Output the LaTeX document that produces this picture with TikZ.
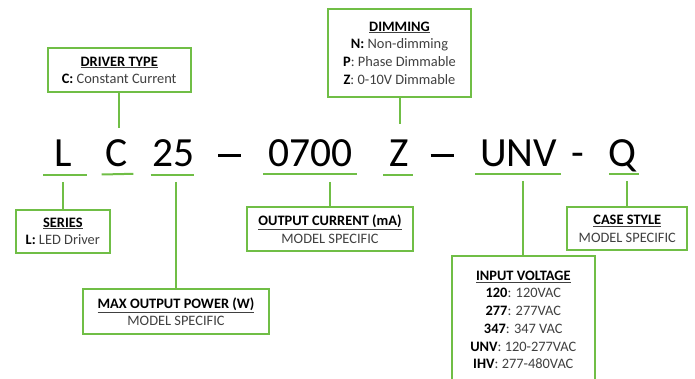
\documentclass[tikz,border=0pt]{standalone}
\usepackage{fontspec}
\setmainfont{Carlito}
\definecolor{lgreen}{RGB}{112,190,70}
\definecolor{txt}{RGB}{64,64,64}
\tikzset{
  infobox/.style={draw=lgreen, line width=2pt, fill=white, align=center, inner sep=0pt,
    font=\fontsize{14.4}{17.7}\selectfont, text=txt},
  code/.style={font=\fontsize{41.5}{45}\selectfont, anchor=base, inner sep=0pt, text=black},
  uline/.style={draw=lgreen, line width=2pt},
  link/.style={draw=lgreen, line width=2pt},
}
\newcommand{\hd}[1]{\underline{\textbf{\color{black}#1}}}
\newcommand{\kw}[1]{\textbf{\color{black}#1}}
\begin{document}
\begin{tikzpicture}[x=1pt,y=-1pt]
\useasboundingbox (0,0) rectangle (695,379);
% code letters
\node[code] (cL) at (63.3,166.7) {L};
\node[code] (cC) at (116.8,166.7) {C};
\node[code] (c25) at (173.3,166.7) {25};
\node[code] (d1) at (229.5,166.7) {\rule[10pt]{23pt}{2.6pt}};
\node[code] (c0700) at (310.5,166.7) {0700};
\node[code] (cZ) at (399,166.7) {Z};
\node[code] (d2) at (442,166.7) {\rule[10pt]{23pt}{2.6pt}};
\node[code] (cUNV) at (518.7,166.7) {UNV};
\node[code] (d3) at (577.8,166.7) {-};
\node[code] (cQ) at (622.5,166.7) {Q};
% underlines
\coordinate (uL1) at (43.3,175); \coordinate (uL2) at (87.3,175);
\coordinate (uC1) at (101.7,174.5); \coordinate (uC2) at (133.3,173.8);
\coordinate (u251) at (150.7,175); \coordinate (u252) at (194.3,175);
\coordinate (u071) at (263.3,173.8); \coordinate (u072) at (357.3,173.8);
\coordinate (uZ1) at (383.3,174.7); \coordinate (uZ2) at (413.3,174.7);
\coordinate (uU1) at (475,173.8); \coordinate (uU2) at (561,173.8);
\coordinate (uQ1) at (609.3,174); \coordinate (uQ2) at (639.3,174);
\foreach \a/\b in {uL1/uL2,uC1/uC2,u251/u252,u071/u072,uZ1/uZ2,uU1/uU2,uQ1/uQ2}
  \draw[uline] (\a) -- (\b);
% boxes
\node[infobox, minimum width=143pt, minimum height=44pt] (driver) at (119.2,70.3)
  {\hd{DRIVER TYPE}\\\kw{C:} Constant Current};
\node[infobox, minimum width=142.7pt, minimum height=87.4pt] (dim) at (399.5,53)
  {\hd{DIMMING}\\\kw{N:} Non-dimming\\\kw{P}: Phase Dimmable\\\kw{Z}: 0-10V Dimmable};
\node[infobox, minimum width=94.3pt, minimum height=42.7pt] (series) at (62.8,231.3)
  {\hd{SERIES}\\\kw{L:} LED Driver};
\node[infobox, minimum width=185.4pt, minimum height=45pt] (power) at (176,311.8)
  {\hd{MAX OUTPUT POWER (W)}\\MODEL SPECIFIC};
\node[infobox, minimum width=165.4pt, minimum height=43.7pt] (current) at (330,229.2)
  {\hd{OUTPUT CURRENT (mA)}\\MODEL SPECIFIC};
\node[infobox, minimum width=142.7pt, minimum height=127.6pt] (input) at (523.3,319.8)
  {\hd{INPUT VOLTAGE}\\\kw{120}: 120VAC\\\kw{277}: 277VAC\\\kw{347}: 347 VAC\\\kw{UNV}: 120-277VAC\\\kw{IHV}: 277-480VAC};
\node[infobox, minimum width=120pt, minimum height=43pt] (case) at (627.3,228.8)
  {\hd{CASE STYLE}\\MODEL SPECIFIC};
% connector ends
\coordinate (tDriver) at (119.2,128);
\coordinate (tDim) at (399.5,124);
\coordinate (tSeries) at (62.8,182);
\coordinate (tPower) at (176,182);
\coordinate (tCurrent) at (330,182);
\coordinate (tInput) at (523.3,181);
\coordinate (tCase) at (627.3,181);
\draw[link] (driver.south) -- (tDriver);
\draw[link] (dim.south) -- (tDim);
\draw[link] (tSeries) -- (series.north);
\draw[link] (tPower) -- (power.north);
\draw[link] (tCurrent) -- (current.north);
\draw[link] (tInput) -- (input.north);
\draw[link] (tCase) -- (case.north);
\end{tikzpicture}
\end{document}
